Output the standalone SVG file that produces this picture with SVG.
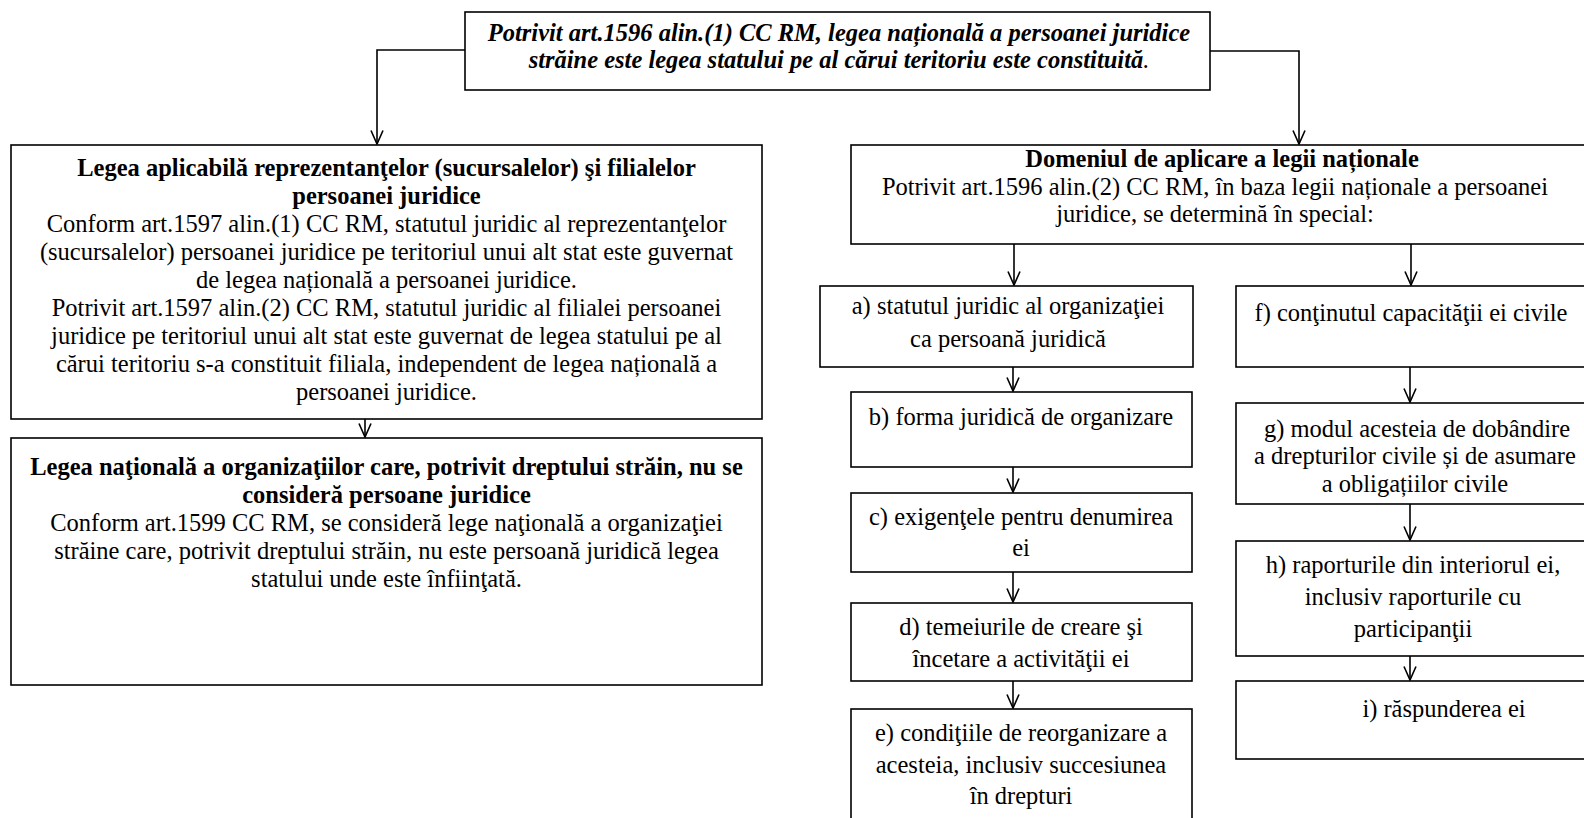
<svg xmlns="http://www.w3.org/2000/svg" width="1584" height="818" viewBox="0 0 1584 818">
<style>
.box{fill:#fff;stroke:#000;stroke-width:1.6}
.t{font-family:"Liberation Serif","Times New Roman","DejaVu Serif",serif;font-size:24.5px;fill:#000;text-anchor:middle}
.b{font-weight:bold}
.bi{font-weight:bold;font-style:italic}
.c{fill:none;stroke:#000;stroke-width:1.6}
</style>
<defs>
<marker id="arr" viewBox="0 0 16 14" markerWidth="16" markerHeight="14" refX="14.5" refY="7" orient="auto" markerUnits="userSpaceOnUse">
<path d="M1,1 L14.5,7 L1,13" fill="none" stroke="#000" stroke-width="1.6"/>
</marker>
</defs>
<rect width="1584" height="818" fill="#fff"/>
<g id="connectors">
<polyline class="c" points="465,50 377,50 377,144" marker-end="url(#arr)"/>
<polyline class="c" points="1210,51 1299,51 1299,144" marker-end="url(#arr)"/>
<line class="c" x1="365" y1="419" x2="365" y2="437" marker-end="url(#arr)"/>
<line class="c" x1="1014" y1="244" x2="1014" y2="285" marker-end="url(#arr)"/>
<line class="c" x1="1411" y1="244" x2="1411" y2="285" marker-end="url(#arr)"/>
<line class="c" x1="1013" y1="367" x2="1013" y2="391" marker-end="url(#arr)"/>
<line class="c" x1="1013" y1="467" x2="1013" y2="492" marker-end="url(#arr)"/>
<line class="c" x1="1013" y1="572" x2="1013" y2="602" marker-end="url(#arr)"/>
<line class="c" x1="1013" y1="681" x2="1013" y2="708" marker-end="url(#arr)"/>
<line class="c" x1="1410" y1="367" x2="1410" y2="402" marker-end="url(#arr)"/>
<line class="c" x1="1410" y1="504" x2="1410" y2="540" marker-end="url(#arr)"/>
<line class="c" x1="1410" y1="656" x2="1410" y2="680" marker-end="url(#arr)"/>
</g>
<g id="top">
<rect class="box" x="465" y="12" width="745" height="78"/>
<text class="t bi" x="839" y="41">Potrivit art.1596 alin.(1) CC RM, legea națională a persoanei juridice</text>
<text class="t bi" x="839" y="68">străine este legea statului pe al cărui teritoriu este constituită<tspan font-weight="normal">.</tspan></text>
</g>
<g id="left1">
<rect class="box" x="11" y="145" width="751" height="274"/>
<text class="t b" x="386.5" y="176">Legea aplicabilă reprezentanţelor (sucursalelor) şi filialelor</text>
<text class="t b" x="386.5" y="204">persoanei juridice</text>
<text class="t" x="386.5" y="232">Conform art.1597 alin.(1) CC RM, statutul juridic al reprezentanţelor</text>
<text class="t" x="386.5" y="260">(sucursalelor) persoanei juridice pe teritoriul unui alt stat este guvernat</text>
<text class="t" x="386.5" y="288">de legea națională a persoanei juridice.</text>
<text class="t" x="386.5" y="316">Potrivit art.1597 alin.(2) CC RM, statutul juridic al filialei persoanei</text>
<text class="t" x="386.5" y="344">juridice pe teritoriul unui alt stat este guvernat de legea statului pe al</text>
<text class="t" x="386.5" y="372">cărui teritoriu s-a constituit filiala, independent de legea națională a</text>
<text class="t" x="386.5" y="400">persoanei juridice.</text>
</g>
<g id="left2">
<rect class="box" x="11" y="438" width="751" height="247"/>
<text class="t b" x="386.5" y="475">Legea naţională a organizaţiilor care, potrivit dreptului străin, nu se</text>
<text class="t b" x="386.5" y="503">consideră persoane juridice</text>
<text class="t" x="386.5" y="531">Conform art.1599 CC RM, se consideră lege naţională a organizaţiei</text>
<text class="t" x="386.5" y="559">străine care, potrivit dreptului străin, nu este persoană juridică legea</text>
<text class="t" x="386.5" y="587">statului unde este înfiinţată.</text>
</g>
<g id="domeniul">
<rect class="box" x="851" y="145" width="740" height="99"/>
<text class="t b" x="1222" y="167">Domeniul de aplicare a legii naționale</text>
<text class="t" x="1215" y="195">Potrivit art.1596 alin.(2) CC RM, în baza legii naționale a persoanei</text>
<text class="t" x="1215" y="222">juridice, se determină în special:</text>
</g>
<g id="a">
<rect class="box" x="820" y="286" width="373" height="81"/>
<text class="t" x="1008" y="314">a) statutul juridic al organizaţiei</text>
<text class="t" x="1008" y="347">ca persoană juridică</text>
</g>
<g id="b">
<rect class="box" x="851" y="392" width="341" height="75"/>
<text class="t" x="1021" y="425">b) forma juridică de organizare</text>
</g>
<g id="c">
<rect class="box" x="851" y="493" width="341" height="79"/>
<text class="t" x="1021" y="525">c) exigenţele pentru denumirea</text>
<text class="t" x="1021" y="556">ei</text>
</g>
<g id="d">
<rect class="box" x="851" y="603" width="341" height="78"/>
<text class="t" x="1021" y="635">d) temeiurile de creare şi</text>
<text class="t" x="1021" y="667">încetare a activităţii ei</text>
</g>
<g id="e">
<rect class="box" x="851" y="709" width="341" height="130"/>
<text class="t" x="1021" y="741">e) condiţiile de reorganizare a</text>
<text class="t" x="1021" y="773">acesteia, inclusiv succesiunea</text>
<text class="t" x="1021" y="804">în drepturi</text>
</g>
<g id="f">
<rect class="box" x="1236" y="286" width="355" height="81"/>
<text class="t" x="1411" y="321">f) conţinutul capacităţii ei civile</text>
</g>
<g id="g">
<rect class="box" x="1236" y="403" width="355" height="101"/>
<text class="t" x="1417" y="437">g) modul acesteia de dobândire</text>
<text class="t" x="1415" y="464">a drepturilor civile și de asumare</text>
<text class="t" x="1415" y="492">a obligațiilor civile</text>
</g>
<g id="h">
<rect class="box" x="1236" y="541" width="355" height="115"/>
<text class="t" x="1413" y="573">h) raporturile din interiorul ei,</text>
<text class="t" x="1413" y="605">inclusiv raporturile cu</text>
<text class="t" x="1413" y="637">participanţii</text>
</g>
<g id="i">
<rect class="box" x="1236" y="681" width="355" height="78"/>
<text class="t" x="1444" y="717">i) răspunderea ei</text>
</g>
</svg>
